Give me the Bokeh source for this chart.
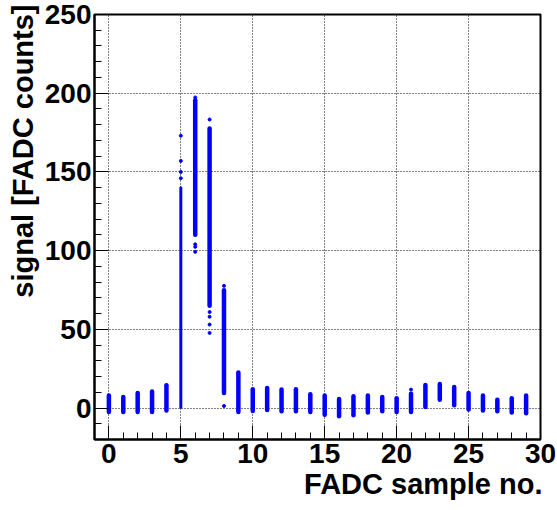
from bokeh.plotting import figure
from bokeh.models import FixedTicker, Title, ColumnDataSource, Range1d
from bokeh.embed import file_html
from bokeh.resources import INLINE

# ---- data ----
samples = list(range(30))
core_low = [-2.5, -2.5, -2.5, -2.5, -1.5, 0.5, 110, 65, 9.5, -2.5,
            -1.9, -1.3, -2.0, -2.0, -2.6, -4.2, -5.3, -4.6, -2.9, -2.0,
            -2.6, -2.6, 0.7, 5.3, 1.7, -1.0, -1.5, -2.0, -2.8, -3.4]
core_high = [8.0, 7.0, 9.5, 10.5, 14.4, 140, 195.6, 177.6, 74.8, 22.5,
             11.9, 12.7, 11.7, 11.9, 8.7, 7.9, 5.7, 7.4, 8.0, 7.0,
             6.2, 9.0, 14.6, 15.2, 13.4, 9.6, 7.9, 5.3, 6.2, 7.9]
# isolated points outside the dense strips
outlier_x = [5, 5, 5, 5, 6, 6, 6, 6, 7, 7, 7, 7, 7, 8, 8, 21]
outlier_y = [173, 157, 150, 146, 197.3, 104, 102.4, 99.2, 183.3, 61, 58, 53, 47.7, 77.6, 1.3, 11.7]

x_major = [0, 5, 10, 15, 20, 25, 30]
y_major = [0, 50, 100, 150, 200, 250]
x_title = "FADC sample no."
y_title = "signal [FADC counts]"

FONT = "Liberation Sans"
BLUE = "#0000ff"

# style: the steep rising sample (5) is drawn as a thinner strip
strip_px = [3 if s == 5 else 4.5 for s in samples]

p = figure(width=557, height=510, output_backend="svg", toolbar_location=None,
           x_range=Range1d(-1, 30), y_range=Range1d(-20, 250),
           min_border_left=94, min_border_right=17, min_border_top=14, min_border_bottom=71)
p.background_fill_color = "white"
p.border_fill_color = "white"
p.outline_line_color = "black"
p.outline_line_width = 2

# grid
for g in (p.xgrid[0], p.ygrid[0]):
    g.grid_line_color = "black"
    g.grid_line_dash = "1 2"
    g.grid_line_width = 1

src = ColumnDataSource(dict(x=samples, lo=core_low, hi=core_high, w=strip_px))
p.segment(x0="x", y0="lo", x1="x", y1="hi", source=src, line_color=BLUE,
          line_width="w", line_cap="round")
p.scatter(outlier_x, outlier_y, size=3, color=BLUE, marker="circle")

# axes
p.xaxis.ticker = FixedTicker(ticks=x_major, minor_ticks=list(range(-1, 31)))
p.yaxis.ticker = FixedTicker(ticks=y_major, minor_ticks=list(range(-20, 251, 10)))
for ax in (p.xaxis[0], p.yaxis[0]):
    ax.axis_line_color = "black"
    ax.axis_line_width = 2
    ax.major_tick_in = 14
    ax.major_tick_out = 0
    ax.minor_tick_in = 7
    ax.minor_tick_out = 0
    ax.major_tick_line_color = "black"
    ax.minor_tick_line_color = "black"
    ax.major_label_text_font = FONT
    ax.major_label_text_font_style = "bold"
    ax.major_label_text_font_size = "28px"
    ax.major_label_text_color = "black"
p.xaxis.major_label_standoff = 4
p.yaxis.major_label_standoff = 3

# axis titles as side titles
p.add_layout(Title(text=x_title, align="right", text_font=FONT, text_font_style="bold",
                   text_font_size="29px", text_color="black", standoff=0, offset=-2), "below")
p.add_layout(Title(text=y_title, align="right", text_font=FONT, text_font_style="bold",
                   text_font_size="29px", text_color="black", standoff=6, offset=-10), "left")

open("out.html", "w").write(file_html(p, INLINE))
